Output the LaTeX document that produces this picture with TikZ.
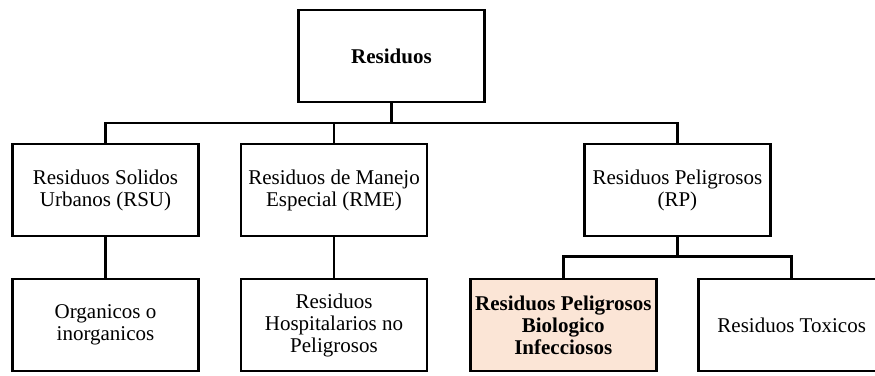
\documentclass[tikz,border=0pt]{standalone}
\usepackage{fontspec}
\setmainfont{Liberation Serif}
\definecolor{peach}{HTML}{FBE5D6}
\tikzset{
  box/.style={draw, line width=2.6pt, minimum width=186pt, minimum height=92pt,
    align=center, inner sep=2pt, font=\fontsize{21}{22}\selectfont},
  link/.style={line width=2.6pt}
}
\begin{document}
\begin{tikzpicture}[x=1pt, y=-1pt]
  \useasboundingbox (0,0) rectangle (875,375);
  \coordinate (bus)  at (0,123);
  \coordinate (bus2) at (0,256.7);

  \node[box] (root) at (391.5,56)  {\textbf{Residuos}};
  \node[box] (rsu)  at (105.5,190) {Residuos Solidos\\Urbanos (RSU)};
  \node[box] (rme)  at (334,190)   {Residuos de Manejo\\Especial (RME)};
  \node[box] (rp)   at (677.4,190) {Residuos Peligrosos\\(RP)};
  \node[box] (org)  at (105.5,325) {Organicos o\\inorganicos};
  \node[box] (hosp) at (334,325)   {Residuos\\Hospitalarios no\\Peligrosos};
  \node[box, fill=peach] (rpbi) at (563.3,325)
    {\textbf{Residuos Peligrosos}\\\textbf{Biologico}\\\textbf{Infecciosos}};
  \node[box] (tox)  at (791.7,325) {Residuos Toxicos};

  \draw[link] (root.south) -- (root.south |- bus);
  \draw[link] (rsu.north) -- (rsu.north |- bus) -| (rp.north);
  \draw[link] (rme.north) -- (rme.north |- bus);
  \draw[link] (rsu) -- (org);
  \draw[link] (rme) -- (hosp);
  \draw[link] (rp.south) -- (rp.south |- bus2);
  \draw[link] (rpbi.north) |- (tox.north |- bus2) -- (tox.north);
\end{tikzpicture}
\end{document}
